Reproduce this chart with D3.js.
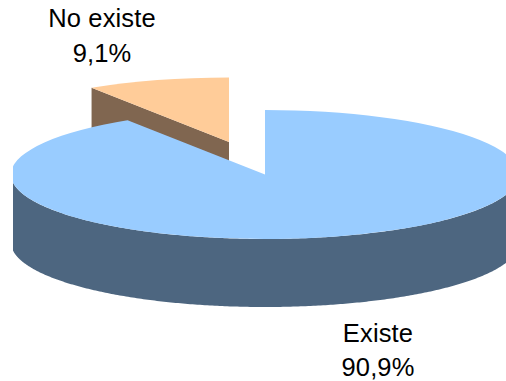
<!DOCTYPE html>
<html><head><meta charset="utf-8">
<script src="https://cdn.jsdelivr.net/npm/d3@7"></script>
<style>html,body{margin:0;padding:0;background:#fff}svg{display:block}text{font-family:"Liberation Sans",Arial,sans-serif;font-size:25.5px;letter-spacing:0.15px;fill:#000;text-anchor:middle}</style>
</head><body><svg id="c" width="506" height="381"></svg>
<script>
const categories = ["Existe", "No existe"];
const values = [90.9, 9.1];
const valueLabels = ["90,9%", "9,1%"];
const topColors = ["#99ccff", "#ffcc99"];
const wallColors = ["#4d6680", "#806650"];

const W = 506, H = 381, cx = 265, cy = 174.5, rx = 254, ry = 64.5, depth = 68;
const offsets = [[0, 0], [-36, -32.5]];
const labelPos = [[378, 342, 376], [102, 27, 62]];

const svg = d3.select("#c");
svg.append("defs").append("clipPath").attr("id", "clip")
  .append("rect").attr("x", 13).attr("y", 0).attr("width", W - 13).attr("height", H);
const plot = svg.append("g").attr("clip-path", "url(#clip)");

const pie = d3.pie().sort(null).startAngle(0).endAngle(2 * Math.PI);
const arcs = pie(values);
const arc = d3.arc().innerRadius(0).outerRadius(rx);
const px = a => rx * Math.sin(a), py = a => -ry * Math.cos(a);
const wall = d3.area().x(a => px(a)).y0(a => py(a)).y1(a => py(a) + depth);

// back slice first, so the larger slice overlaps it
[1, 0].forEach(i => {
  const d = arcs[i];
  const g = plot.append("g").attr("transform", `translate(${cx + offsets[i][0]},${cy + offsets[i][1]})`);
  // outer wall: only the front half of the rim faces the viewer
  const a0 = Math.max(d.startAngle, Math.PI / 2), a1 = Math.min(d.endAngle, 1.5 * Math.PI);
  if (a1 > a0) {
    g.append("path").attr("d", wall(d3.range(a0, a1, 0.01).concat(a1))).attr("fill", wallColors[i]);
  }
  // cut face of the pulled-out slice
  if (i === 1) {
    g.append("path")
      .attr("d", d3.area().x(p => p[0]).y0(p => p[1]).y1(p => p[1] + depth)([[px(d.startAngle), py(d.startAngle)], [0, 0]]))
      .attr("fill", wallColors[i]);
  }
  g.append("path").attr("d", arc(d)).attr("fill", topColors[i])
    .attr("transform", `scale(1,${ry / rx})`);
});

categories.forEach((c, i) => {
  svg.append("text").attr("x", labelPos[i][0]).attr("y", labelPos[i][1]).text(c);
  svg.append("text").attr("x", labelPos[i][0]).attr("y", labelPos[i][2]).text(valueLabels[i]);
});
</script></body></html>
